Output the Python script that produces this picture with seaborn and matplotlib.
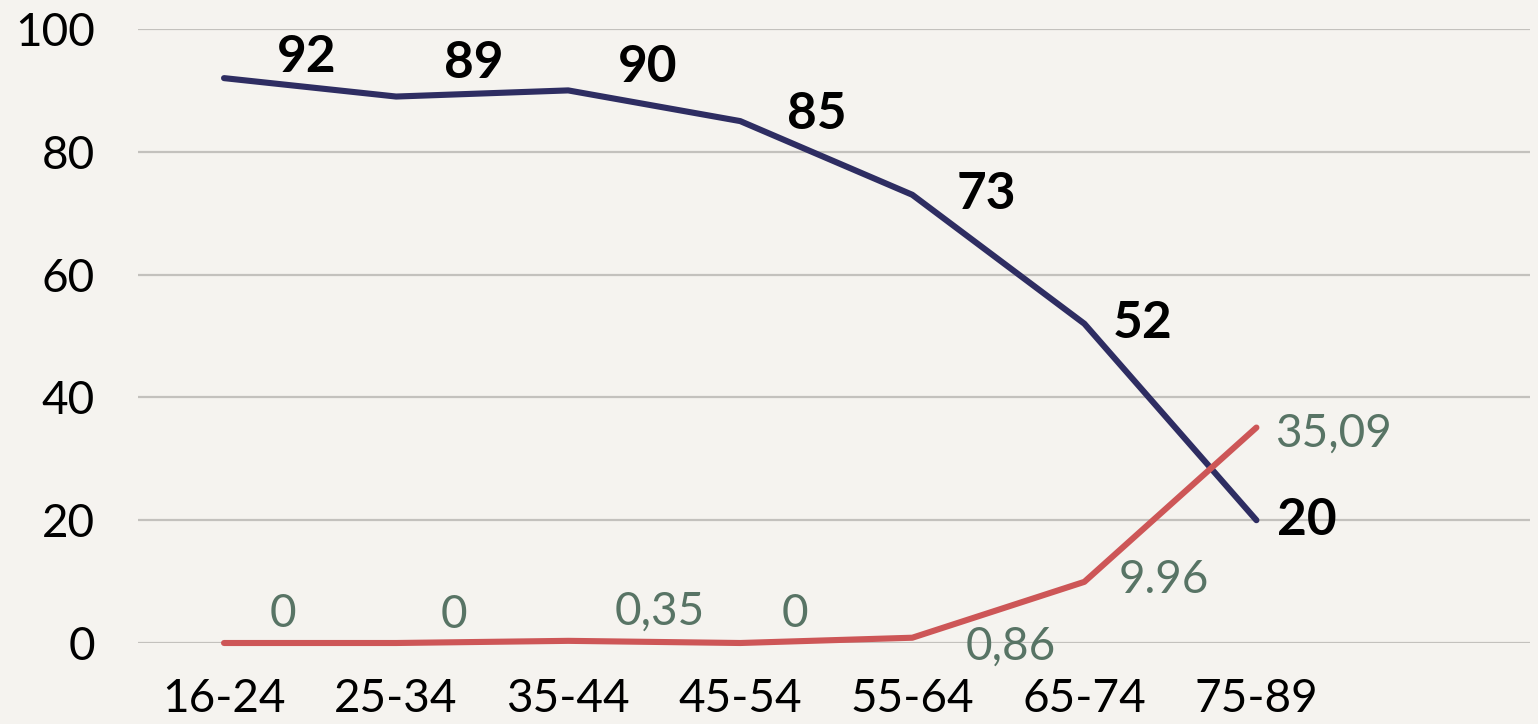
import pandas as pd
import seaborn as sns
from matplotlib import pyplot as plt

# data
age_groups = ['16-24', '25-34', '35-44', '45-54', '55-64', '65-74', '75-89']
navy_values = [92, 89, 90, 85, 73, 52, 20]
red_values = [0, 0, 0.35, 0, 0.86, 9.96, 35.09]
navy_labels = ['92', '89', '90', '85', '73', '52', '20']
red_labels = ['0', '0', '0,35', '0', '0,86', '9.96', '35,09']

# label offsets in pixels (dx, dy)
navy_offsets = [(83, 21), (78, 33), (79, 23), (77, 7), (74, 0), (58, 0), (50, 0)]
red_offsets = [(59, 29), (58, 28), (92, 29), (55, 29), (98, -9), (79, 2), (77, -6)]

bg = '#f5f3ef'
navy = '#2e2d62'
red = '#cd5657'
green = '#587465'

sns.set_style('white')
plt.rcParams['font.family'] = ['Lato', 'DejaVu Sans']

df = pd.DataFrame({
    'age': age_groups * 2,
    'value': navy_values + red_values,
    'series': ['navy'] * len(age_groups) + ['red'] * len(age_groups),
})

fig = plt.figure(figsize=(15.38, 7.24), dpi=100, facecolor=bg)
ax = fig.add_axes([138 / 1538, 81 / 724, (1530 - 138) / 1538, (643 - 29) / 724])
ax.set_facecolor(bg)

sns.lineplot(data=df, x='age', y='value', hue='series',
             palette={'navy': navy, 'red': red}, linewidth=4.4,
             legend=False, ax=ax, sort=False)
for line in ax.lines:
    line.set_clip_on(False)
    line.set_solid_capstyle('round')
    line.set_zorder(3)

ax.set_ylim(0, 100)
ax.set_xlim(-0.5, 7.59)
ax.set_yticks([0, 20, 40, 60, 80, 100])
ax.yaxis.grid(True, color='#c3c1bd', linewidth=1.6)
ax.set_axisbelow(True)
for s in ax.spines.values():
    s.set_visible(False)
ax.tick_params(axis='y', length=0, pad=31, labelsize=33, labelcolor='black')
ax.tick_params(axis='x', length=0, pad=25, labelsize=33, labelcolor='black')
ax.set_xlabel('')
ax.set_ylabel('')

for i, age in enumerate(age_groups):
    ax.annotate(navy_labels[i], (age, navy_values[i]), xytext=navy_offsets[i],
                textcoords='offset pixels', ha='center', va='center',
                fontsize=37, fontweight='bold', color='black')
    ax.annotate(red_labels[i], (age, red_values[i]), xytext=red_offsets[i],
                textcoords='offset pixels', ha='center', va='center',
                fontsize=33, color=green)

plt.savefig('out.png', dpi=100, facecolor=bg)
